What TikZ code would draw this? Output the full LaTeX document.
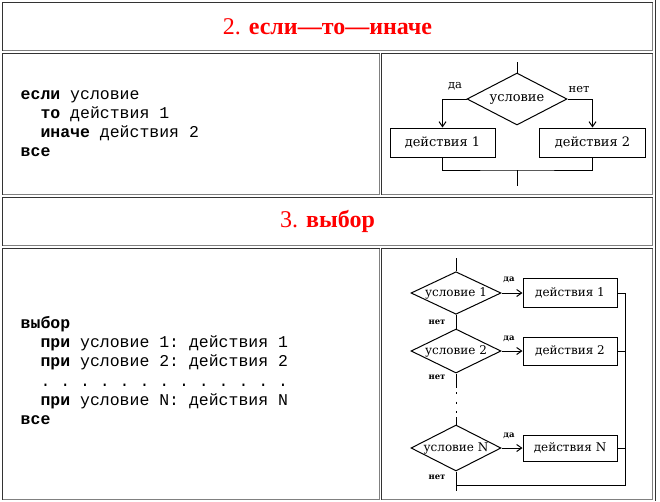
\documentclass[tikz,border=0pt]{standalone}
\usepackage{fontspec}
\setmainfont{Liberation Serif}
\setmonofont{Liberation Mono}
\newfontfamily\fcfont{DejaVu Serif}
\usetikzlibrary{shapes.geometric,arrows.meta}
\definecolor{bdark}{HTML}{333333}
\definecolor{blight}{HTML}{808080}
\definecolor{titlered}{HTML}{FF0000}
\tikzset{
  dk/.style={draw=bdark,line width=1pt},
  lt/.style={draw=blight,line width=1pt},
  titletext/.style={text=titlered,font=\fontsize{24}{28}\selectfont,inner sep=0pt},
  code/.style={anchor=base west,inner sep=0pt,font=\ttfamily\fontsize{16.5}{19}\selectfont},
  fl/.style={line width=1pt,draw=black},
  arr/.style={fl,-{Straight Barb[length=5pt,width=7pt]}},
  dia/.style={diamond,draw=black,line width=1pt,inner sep=0pt,aspect=2},
  box/.style={rectangle,draw=black,line width=1pt,inner sep=0pt},
  fbig/.style={font=\fcfont\fontsize{13}{15}\selectfont},
  fmid/.style={font=\fcfont\fontsize{12}{14}\selectfont},
  lblbig/.style={inner sep=0pt,font=\fcfont\fontsize{11.5}{13}\selectfont},
  lblsmall/.style={inner sep=0pt,font=\fcfont\bfseries\fontsize{8.5}{10}\selectfont},
}
\newcommand\mycell[4]{%
  \draw[dk] (#1,#4) -- (#1,#2) -- (#3,#2);
  \draw[lt] (#3,#2) -- (#3,#4) -- (#1,#4);}
\begin{document}
\begin{tikzpicture}[x=1pt,y=-1pt]
\useasboundingbox (0,0) rectangle (660,501);
% table cells
\mycell{2.5}{2.5}{652.5}{50.5}
\mycell{2.5}{53.5}{379.5}{194.5}
\mycell{381.5}{53.5}{652.5}{194.5}
\mycell{2.5}{197.5}{652.5}{245.5}
\mycell{2.5}{248.5}{379.5}{499.5}
\mycell{381.5}{248.5}{652.5}{499.5}
\draw[dk] (655.5,0) -- (655.5,501);
% titles
\node[titletext] (t1) at (327.5,26.5) {2. \textbf{если—то—иначе}};
\node[titletext] (t3) at (327.5,221.5) {3. \textbf{выбор}};
% code row 2
\node[code] (c21) at (20.5,99) {\textbf{если} условие};
\node[code] (c22) at (40.3,118) {\textbf{то} действия 1};
\node[code] (c23) at (40.3,137.5) {\textbf{иначе} действия 2};
\node[code] (c24) at (20.5,156.5) {\textbf{все}};
% code row 4
\node[code] (c41) at (20.5,328) {\textbf{выбор}};
\node[code] (c42) at (40.3,347.3) {\textbf{при} условие 1: действия 1};
\node[code] (c43) at (40.3,366.6) {\textbf{при} условие 2: действия 2};
\node[code] (c44) at (40.3,386) {. . . . . . . . . . . . .};
\node[code] (c45) at (40.3,405.3) {\textbf{при} условие N: действия N};
\node[code] (c46) at (20.5,424.6) {\textbf{все}};
% flowchart row 2
\coordinate (in2) at (517,62);
\node[dia,fbig,minimum width=100pt,minimum height=52pt] (d2) at (517,99) {условие};
\node[box,fbig,minimum width=105pt,minimum height=29pt] (b21) at (442.5,142.5) {действия 1};
\node[box,fbig,minimum width=106pt,minimum height=29pt] (b22) at (592.5,142.5) {действия 2};
\coordinate (j2) at (517,170);
\coordinate (out2) at (517,186);
\draw[fl] (in2) -- (d2.north);
\draw[arr] (d2.west) -| (b21.north);
\draw[arr] (d2.east) -| (b22.north);
\draw[fl] (b21.south) |- (j2) -| (b22.south);
\draw[fl] (j2) -- (out2);
\node[lblbig] (ya2) at (455,86) {да};
\node[lblbig] (no2) at (579,89.5) {нет};
% flowchart row 4
\coordinate (in4) at (456,258);
\node[dia,fmid,minimum width=90pt,minimum height=42pt] (d41) at (456,293) {условие 1};
\node[dia,fmid,minimum width=90pt,minimum height=44pt] (d42) at (456,351) {условие 2};
\node[dia,fmid,minimum width=90pt,minimum height=46pt] (d4n) at (456,448) {условие N};
\node[box,fmid,minimum width=94pt,minimum height=29pt] (b41) at (570,293) {действия 1};
\node[box,fmid,minimum width=94pt,minimum height=28pt] (b42) at (570,351) {действия 2};
\node[box,fmid,minimum width=94pt,minimum height=26pt] (b4n) at (570,448) {действия N};
\coordinate (r1) at (625,293);
\coordinate (r2) at (625,351);
\coordinate (r3) at (625,448);
\coordinate (rb) at (625,485);
\coordinate (lb) at (456,485);
\coordinate (out4) at (456,491);
\coordinate (g1) at (456,388);
\coordinate (g2) at (456,417);
\draw[fl] (in4) -- (d41.north);
\draw[fl] (d41.south) -- (d42.north);
\draw[fl] (d42.south) -- (g1);
\draw[fl,dash pattern=on 2pt off 7.5pt,dash phase=5.5pt] (g1) -- (g2);
\draw[fl] (g2) -- (d4n.north);
\draw[arr] (d41.east) -- (b41.west);
\draw[arr] (d42.east) -- (b42.west);
\draw[arr] (d4n.east) -- (b4n.west);
\draw[fl] (b41.east) -- (r1) -- (rb) -- (lb);
\draw[fl] (b42.east) -- (r2);
\draw[fl] (b4n.east) -- (r3);
\draw[fl] (d4n.south) -- (out4);
\node[lblsmall] (ya41) at (509,280) {да};
\node[lblsmall] (ya42) at (509,339) {да};
\node[lblsmall] (ya4n) at (509,436) {да};
\node[lblsmall] (no41) at (437,322) {нет};
\node[lblsmall] (no42) at (437,377) {нет};
\node[lblsmall] (no4n) at (437,477) {нет};
\end{tikzpicture}
\end{document}
